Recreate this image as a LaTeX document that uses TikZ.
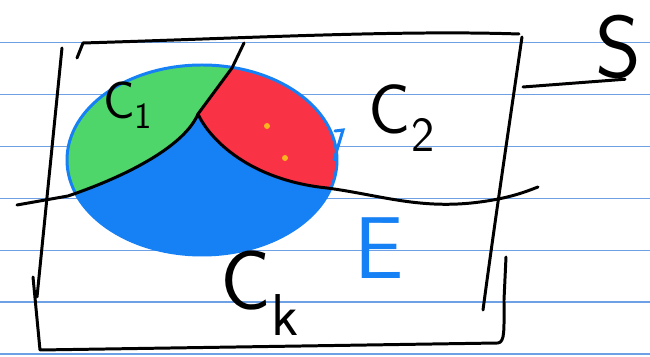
\documentclass[tikz,border=0pt]{standalone}
\usepackage{tikz}
\usetikzlibrary{positioning}
\definecolor{ruleblue}{RGB}{110,160,230}
\definecolor{regblue}{RGB}{22,128,245}
\definecolor{reggreen}{RGB}{78,214,106}
\definecolor{regred}{RGB}{250,50,70}
\definecolor{dotyellow}{RGB}{250,180,30}
\tikzset{
  pen/.style={black, line width=1.7pt, line cap=round, line join=round},
  sketchtext/.style={font=\sffamily\fontsize{#1}{#1}\selectfont, inner sep=0pt},
  sketchtext/.default=30
}

\begin{document}
\begin{tikzpicture}[x=0.02cm, y=-0.02cm]
  \useasboundingbox[fill=white] (0,0) rectangle (650,357);
  % ruled paper
  \foreach \i in {0,...,6}
    \draw[ruleblue, line width=0.9pt] (0,{42.7+51.9*\i}) -- (650,{42.7+51.9*\i});

  % set E with its parts
  \fill[regblue] (202,160) ellipse [x radius=135, y radius=95];
  \begin{scope}
    \clip (202,160) ellipse [x radius=135, y radius=95];
    \fill[reggreen] (198,114) .. controls (185,145) and (130,175) .. (65,197)
      -- (40,197) -- (40,40) -- (246,40) -- (232,68) -- cycle;
    \fill[regred] (198,114) .. controls (210,140) and (250,180) .. (327,188)
      -- (345,189) -- (345,40) -- (246,40) -- (232,68) -- cycle;
  \end{scope}
  \draw[regblue, line width=1.7pt] (202,160) ellipse [x radius=135, y radius=95];
  \draw[regblue, line width=1.7pt, line cap=round] (335,131) -- (343,130) -- (334,160);
  \fill[dotyellow] (267,126) circle [radius=3];
  \fill[dotyellow] (285,158) circle [radius=3];

  % cuts
  \draw[pen] (17,205) -- (68,196) .. controls (130,175) and (185,145) .. (198,114);
  \draw[pen] (198,114) .. controls (210,140) and (250,180) .. (327,188)
    .. controls (380,195) and (420,210) .. (480,202)
    .. controls (510,198) and (525,192) .. (538,187);
  \draw[pen] (198,114) -- (232,68) -- (244,43);

  % set S
  \draw[pen] (77,58) -- (83,43) .. controls (250,38) and (400,30) .. (519,34);
  \draw[pen] (522,37) .. controls (510,120) and (495,220) .. (483,310);
  \draw[pen] (62,48) -- (37,297);
  \draw[pen] (33,277) -- (40,350) -- (498,343) .. controls (505,342) and (504,330) .. (504,300) -- (506,257);

  % labels
  \node[sketchtext=30] (cOne) at (128,105) {C\textsubscript{1}};
  \node[sketchtext=40] (cTwo) at (402,118) {C\textsubscript{2}};
  \node[sketchtext=48] (cK) at (260,293) {C\textsubscript{k}};
  \node[sketchtext=50, regblue] (setE) at (379,248) {E};
  \node[sketchtext=50] (setS) at (618,47) {S};
  \coordinate (sTail) at (523,87);
  \draw[pen] (sTail) -- ([xshift=4pt]setS.south);
\end{tikzpicture}
\end{document}
